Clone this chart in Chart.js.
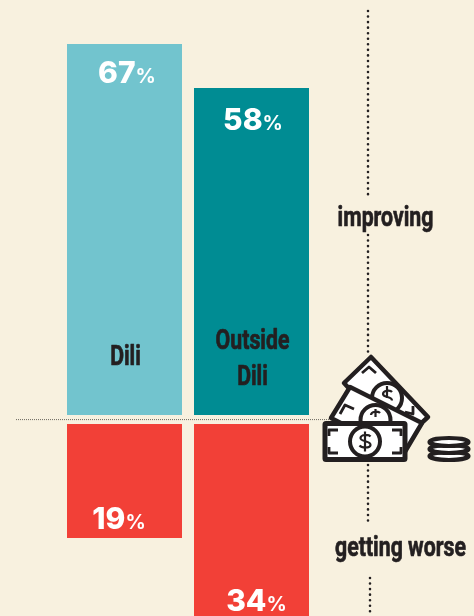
<!DOCTYPE html>
<html><head><meta charset="utf-8">
<style>
html,body{margin:0;padding:0;background:#F8F1DF;width:474px;height:616px;overflow:hidden}
#wrap{position:relative;width:474px;height:616px}
canvas{position:absolute;left:0;top:0}
svg{position:absolute;left:0;top:0}
</style>
<script src="https://cdn.jsdelivr.net/npm/chart.js@4"></script>
</head><body>
<div id="wrap">
<canvas id="c" width="474" height="616"></canvas>
<svg width="474" height="616" viewBox="0 0 474 616">
  <g stroke="#231F20" stroke-width="2.600" stroke-linecap="round" stroke-dasharray="0 5.55" fill="none">
    <line x1="368" y1="11" x2="368" y2="196"/>
    <line x1="368" y1="235" x2="368" y2="354"/>
    <line x1="368" y1="465" x2="368" y2="525"/>
    <line x1="370" y1="578" x2="370" y2="616"/>
  </g>
  <line x1="16" y1="419.6" x2="330" y2="419.6" stroke="#6b675e" stroke-width="1" stroke-dasharray="1 1"/>
  <g stroke="#231F20" stroke-linejoin="round" fill="#fff">
    <polygon points="344,383 371,357 428,417 400,443" stroke-width="4.500"/>
    <path d="M362,373l7,-6l7,6M405,412l8,2l0,-8" fill="none" stroke-width="2.800"/>
    <circle cx="387" cy="398" r="15" stroke-width="4"/>
    <polygon points="331,418 350,387 422,423 403,455" stroke-width="4.500"/>
    <path d="M340,414l5,-9l9,4M401,435l-4,8l-9,-4" fill="none" stroke-width="2.800"/>
    <circle cx="375.500" cy="420" r="15" stroke-width="4"/>
    <rect x="325" y="423.500" width="80" height="36" rx="1" stroke-width="5"/>
    <path d="M338,430h-9v6M392,430h9v6M338,453h-9v-6M392,453h9v-6" fill="none" stroke-width="2.800"/>
    <circle cx="365" cy="441.500" r="15" stroke-width="4"/>
    <ellipse cx="449" cy="456" rx="19.500" ry="4" stroke-width="4.200"/>
    <ellipse cx="449" cy="449" rx="19.500" ry="4" stroke-width="4.200"/>
    <ellipse cx="449" cy="442" rx="19.500" ry="4" stroke-width="4.200"/>
  </g>
  <path d="M370.500,436.500c-1.500,-2 -9.500,-2.500 -10,1.500c-.5,4 10.500,2.500 10,7c-.5,3.500 -9,3 -11,.5M365,431.500v20" fill="none" stroke="#231F20" stroke-width="2.200"/>
  <path d="M392,392c-1.500,-2 -9,-2 -9,2c0,4 9,2 9,6.500M387,386v12" fill="none" stroke="#231F20" stroke-width="2.200"/>
  <path d="M380,413c-1.500,-2 -9,-2 -9,2M375.500,409v8" fill="none" stroke="#231F20" stroke-width="2.200"/>
</svg>
</div>
<script>
const categories = ["Dili", "Outside Dili"];
const improving = [67, 58];
const gettingWorse = [19, 34];
const seriesLabels = ["improving", "getting worse"];

const BG = "#F8F1DF", LIGHT = "#72C4CE", TEAL = "#008C93", RED = "#F24037", INK = "#231F20", H = 616;
const NARROW = 'Roboto, "Liberation Sans", sans-serif';
const NUM = 'Inter, "Open Sans", sans-serif';
const SQUEEZE = 0.76;

function axis(zeroPx, pxPerUnit) {
  return { display: false, position: "left", min: -(H - zeroPx) / pxPerUnit, max: zeroPx / pxPerUnit };
}
function narrowText(ctx, text, cx, baseline) {
  ctx.save();
  ctx.translate(cx, baseline);
  ctx.scale(SQUEEZE, 1);
  ctx.strokeStyle = INK;
  ctx.lineWidth = 0.7;
  ctx.lineJoin = "round";
  ctx.strokeText(text, 0, 0);
  ctx.fillText(text, 0, 0);
  ctx.restore();
}
const valueLabels = {
  id: "valueLabels",
  afterDatasetsDraw(chart) {
    const ctx = chart.ctx;
    chart.data.datasets.forEach((ds, di) => {
      chart.getDatasetMeta(di).data.forEach((el, i) => {
        const v = ds.data[i];
        if (v === null) return;
        const base = el.y + ds.labelDy;
        const big = String(Math.abs(v));
        ctx.save();
        ctx.fillStyle = "#fff";
        ctx.textBaseline = "alphabetic";
        ctx.textAlign = "left";
        ctx.font = "800 30px " + NUM;
        const w1 = ctx.measureText(big).width;
        ctx.font = "700 20px " + NUM;
        const w2 = ctx.measureText("%").width;
        const x = el.x + ds.labelDx - (w1 + w2) / 2;
        ctx.font = "800 30px " + NUM;
        ctx.fillText(big, x, base);
        ctx.font = "700 20px " + NUM;
        ctx.fillText("%", x + w1, base);
        ctx.restore();
      });
    });
    ctx.save();
    ctx.fillStyle = INK;
    ctx.textBaseline = "alphabetic";
    ctx.textAlign = "center";
    ctx.font = "700 28px " + NARROW;
    const xs = chart.scales.x;
    narrowText(ctx, categories[0], xs.getPixelForValue(0) + 1, 365);
    const parts = categories[1].split(" ");
    narrowText(ctx, parts[0], xs.getPixelForValue(1) + 1, 349);
    narrowText(ctx, parts[1], xs.getPixelForValue(1) + 1, 385);
    narrowText(ctx, seriesLabels[0], 385.5, 226);
    narrowText(ctx, seriesLabels[1], 400.5, 556);
    ctx.restore();
  }
};
const bar = { barPercentage: 115 / 127, categoryPercentage: 1, grouped: false, borderWidth: 0 };
new Chart(document.getElementById("c"), {
  type: "bar",
  data: {
    labels: categories,
    datasets: [
      { ...bar, label: categories[0] + " " + seriesLabels[0], data: [improving[0], null], backgroundColor: LIGHT, yAxisID: "yDili", labelDy: 39, labelDx: 2.5 },
      { ...bar, label: categories[1] + " " + seriesLabels[0], data: [null, improving[1]], backgroundColor: TEAL, yAxisID: "yOut", labelDy: 41.5, labelDx: 1.5 },
      { ...bar, label: categories[0] + " " + seriesLabels[1], data: [-gettingWorse[0], null], backgroundColor: RED, yAxisID: "yWorse", labelDy: -9, labelDx: -5.5 },
      { ...bar, label: categories[1] + " " + seriesLabels[1], data: [null, -gettingWorse[1]], backgroundColor: RED, yAxisID: "yWorse", labelDy: -17, labelDx: 5 }
    ]
  },
  options: {
    responsive: false,
    animation: false,
    devicePixelRatio: 1,
    layout: { padding: { left: 61, right: 159, top: 0, bottom: 0 } },
    plugins: { legend: { display: false }, tooltip: { enabled: false }, title: { display: false } },
    scales: {
      x: { display: false, type: "category", offset: true },
      yDili: axis(415, 371 / 67),
      yOut: axis(415, 327 / 58),
      yWorse: axis(424, 6)
    }
  },
  plugins: [valueLabels]
});
</script>
</body></html>
